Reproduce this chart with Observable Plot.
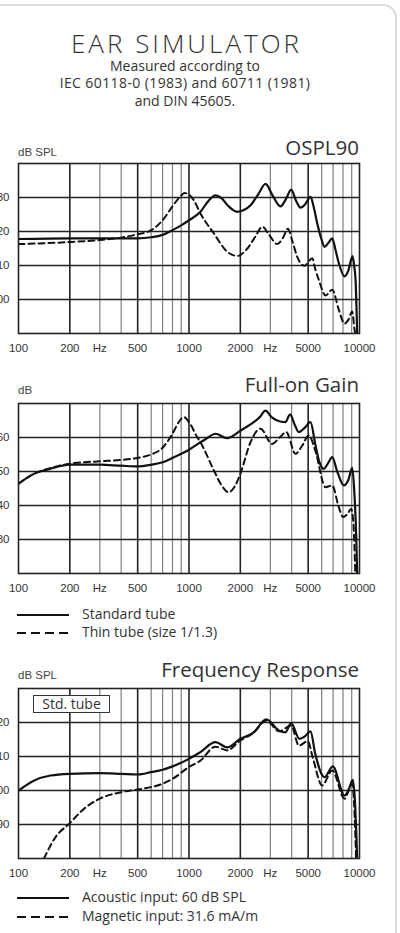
<!DOCTYPE html>
<html><head><meta charset="utf-8">
<script src="https://cdn.jsdelivr.net/npm/d3@7"></script>
<script src="https://cdn.jsdelivr.net/npm/@observablehq/plot@0.6"></script>
<style>
html,body{margin:0;padding:0;background:#fff;}
body{position:relative;width:400px;height:933px;overflow:hidden;}
#card{position:absolute;left:-30px;top:4px;width:427px;height:1000px;border:2px solid #dcdcdc;border-radius:14px;box-sizing:border-box;background:#fff;}
.abs{position:absolute;white-space:nowrap;color:#333;}
.h{font-family:"Open Sans",sans-serif;font-size:20.5px;line-height:20.5px;font-weight:400;}
.u{font-family:"Liberation Sans",Arial,sans-serif;font-size:11.5px;line-height:11.5px;color:#444;}
.lg{font-family:"Open Sans",sans-serif;font-size:14px;line-height:14px;}
.plot{position:absolute;left:-12px;}
</style></head>
<body>
<div id="card"></div>
<div class="abs" style="left:0;width:370px;text-align:center;top:30px;font-family:'Open Sans',sans-serif;font-weight:300;font-size:26px;line-height:26px;letter-spacing:3px;text-indent:3px;">EAR SIMULATOR</div>
<div class="abs" style="left:0;width:370px;text-align:center;top:57px;font-family:'Open Sans',sans-serif;font-size:14px;line-height:17.3px;">Measured according to<br><span style="letter-spacing:0.4px">IEC 60118-0 (1983) and 60711 (1981)</span><br>and DIN 45605.</div>

<div class="abs u" style="left:18px;top:147px;">dB SPL</div>
<div class="abs h" style="right:41px;top:137px;">OSPL90</div>
<div id="c1" class="plot" style="top:159px;"></div>

<div class="abs u" style="left:18px;top:385px;">dB</div>
<div class="abs h" style="right:41px;top:374px;">Full-on Gain</div>
<div id="c2" class="plot" style="top:399px;"></div>

<div id="lg1"></div>

<div class="abs u" style="left:18px;top:670px;">dB SPL</div>
<div class="abs h" style="right:41px;top:659px;">Frequency Response</div>
<div id="c3" class="plot" style="top:684px;"></div>
<div class="abs lg" style="left:33px;top:695px;width:77px;height:18px;box-sizing:border-box;border:1.5px solid #333;background:#fff;text-align:center;line-height:15px;">Std. tube</div>

<div id="lg2"></div>

<script>
// ---------- axis ticks ----------
const xTickValues = [100, 200, 300, 500, 1000, 2000, 3000, 5000, 10000];
const xTickLabels = ["100", "200", "Hz", "500", "1000", "2000", "Hz", "5000", "10000"];
const majorGridX = [200, 500, 1000, 2000, 5000];
const minorGridX = [300, 400, 600, 700, 800, 900, 3000, 4000, 6000, 7000, 8000, 9000];

// ---------- OSPL90 (dB SPL) ----------
const osplTicks = [100, 110, 120, 130];
const osplStdFreq = [100,200,400,500,600,700,800,900,1000,1167,1300,1430,1550,1700,1918,2100,2295,2550,2810,3100,3440,3700,3975,4250,4508,4800,5160,5400,5650,6000,6235,6600,6920,7200,7560,8165,8600,9100,9300,9480,9690];
const osplStdVal  = [117.8,118.0,118.0,118.0,118.3,119.0,120.4,121.8,123.3,125.8,129.0,130.6,129.8,127.5,125.8,126.3,127.7,131.0,134.0,130.5,127.4,129.5,132.3,129.0,127.0,128.0,130.2,127.0,122.4,117.5,115.5,116.8,118.0,115.0,110.7,106.8,108.5,112.8,110.0,105.8,90];
const osplThinFreq = [100,200,300,400,500,600,700,800,900,941,1067,1167,1400,1672,1918,2200,2450,2690,2950,3290,3550,3800,4050,4310,4760,5280,5500,5770,6320,6920,7560,8165,8600,9060,9350,9450];
const osplThinVal  = [116.3,116.9,117.5,118.2,119.2,120.4,123.3,127.4,130.6,131.3,129.2,125.3,119.4,114.1,112.8,115.0,118.5,121.4,119.0,116.3,118.0,120.8,117.0,112.6,109.9,112.1,109.0,105.8,101.2,102.9,97.0,92.9,94.0,96.5,91.2,90];

// ---------- Full-on Gain (dB) ----------
const gainTicks = [30, 40, 50, 60];
const gainStdFreq = [100,123,154,200,300,400,500,600,700,800,1000,1167,1250,1430,1672,2000,2395,2600,2810,3050,3290,3670,3920,4150,4410,4800,5160,5500,5800,6180,6550,6920,7400,8090,8600,9060,9300,9550,9690];
const gainStdVal  = [46.4,49.3,50.8,52.0,52.0,51.7,51.5,52.0,52.7,54.0,56.4,58.6,59.5,61.1,59.8,62.0,64.5,66.0,67.9,66.0,65.0,64.5,66.8,64.0,61.6,63.0,64.5,58.1,53.0,50.8,52.5,54.2,50.0,45.9,47.5,51.1,45.0,32.0,20];
const gainThinFreq = [100,123,154,200,300,400,500,600,700,800,870,934,1000,1118,1167,1400,1550,1707,1850,2000,2295,2625,3070,3400,3720,4210,4600,5040,5500,6320,6920,7560,8020,8500,8940,9200,9450];
const gainThinVal  = [46.4,49.3,51.0,52.3,53.0,53.4,54.0,55.0,57.0,61.1,64.5,66.0,64.5,60.1,58.6,50.3,46.0,43.9,45.5,49.3,58.6,62.6,58.1,60.0,61.6,55.2,57.5,60.6,56.2,45.4,45.9,39.5,36.6,37.5,39.0,35.0,20];

// ---------- Frequency Response (dB SPL) ----------
const respTicks = [90, 100, 110, 120];
const respAcFreq = [100,123,154,200,300,400,500,600,700,800,1000,1167,1430,1672,2000,2395,2840,3380,3670,3975,4440,4800,5160,5500,6235,6970,8165,8600,9140,9400,9690];
const respAcVal  = [100.0,102.9,104.4,104.9,105.1,104.9,104.7,105.4,106.1,107.1,109.3,111.3,114.2,112.7,115.2,117.1,120.9,117.6,117.1,119.8,115.2,116.0,117.4,110.8,103.9,107.1,98.5,100.0,103.1,97.0,80];
const respMagFreq = [141,165,200,242,300,400,500,600,700,800,1000,1167,1430,1672,2000,2395,2840,3380,3975,4410,4980,5300,6040,6920,8165,9060,9300,9550];
const respMagVal  = [80.0,86.3,90.4,94.6,97.6,99.5,100.3,101.0,102.0,103.4,106.9,108.8,112.9,111.8,114.7,117.0,120.6,117.4,119.1,113.2,114.5,110.0,101.5,105.9,97.6,102.0,96.0,80];

const legend1 = ["Standard tube", "Thin tube (size 1/1.3)"];
const legend2 = ["Acoustic input: 60 dB SPL", "Magnetic input: 31.6 mA/m"];

const rows = (fs, vs) => fs.map((f, i) => ({f, v: vs[i]}));
const labelMap = new Map(xTickValues.map((d, i) => [d, xTickLabels[i]]));

function chart(el, domain, yTicks, solid, dashed) {
  const p = Plot.plot({
    width: 400, height: 198,
    marginLeft: 30, marginRight: 29, marginTop: 4, marginBottom: 24,
    style: {fontFamily: "'Liberation Sans', Arial, sans-serif", fontSize: "11.5px", color: "#333", background: "transparent", overflow: "visible"},
    x: {type: "log", domain: [100, 10000]},
    y: {domain},
    marks: [
      Plot.ruleX(minorGridX, {stroke: "#808080", strokeWidth: 1.2}),
      Plot.ruleX(majorGridX, {stroke: "#222", strokeWidth: 1.6}),
      Plot.ruleY(yTicks, {stroke: "#222", strokeWidth: 1.6}),
      Plot.line(dashed, {x: "f", y: "v", curve: "monotone-x", stroke: "#111", strokeWidth: 2, strokeDasharray: "6,4", clip: true}),
      Plot.line(solid, {x: "f", y: "v", curve: "monotone-x", stroke: "#111", strokeWidth: 2.2, clip: true}),
      Plot.frame({stroke: "#222", strokeWidth: 1.6}),
      Plot.axisX({ticks: xTickValues, tickFormat: d => labelMap.get(d), tickSize: 0, tickPadding: 10, label: null}),
      Plot.axisY({ticks: yTicks, tickSize: 0, tickPadding: 9, label: null})
    ]
  });
  document.getElementById(el).appendChild(p);
}

chart("c1", [90, 140], osplTicks, rows(osplStdFreq, osplStdVal), rows(osplThinFreq, osplThinVal));
chart("c2", [20, 70], gainTicks, rows(gainStdFreq, gainStdVal), rows(gainThinFreq, gainThinVal));
chart("c3", [80, 130], respTicks, rows(respAcFreq, respAcVal), rows(respMagFreq, respMagVal));

function legend(el, labels, tops) {
  const host = document.getElementById(el);
  labels.forEach((t, i) => {
    const d = document.createElement("div");
    d.className = "abs lg";
    d.style.left = "17px";
    d.style.top = tops[i] + "px";
    d.innerHTML = `<svg width="52" height="6" style="vertical-align:middle;margin-right:13px;"><line x1="0" x2="52" y1="3" y2="3" stroke="#111" stroke-width="2.2" ${i ? 'stroke-dasharray="9,5"' : ''}/></svg>${t}`;
    host.appendChild(d);
  });
}
legend("lg1", legend1, [607, 624.5]);
legend("lg2", legend2, [889.5, 909]);
</script>
</body></html>
